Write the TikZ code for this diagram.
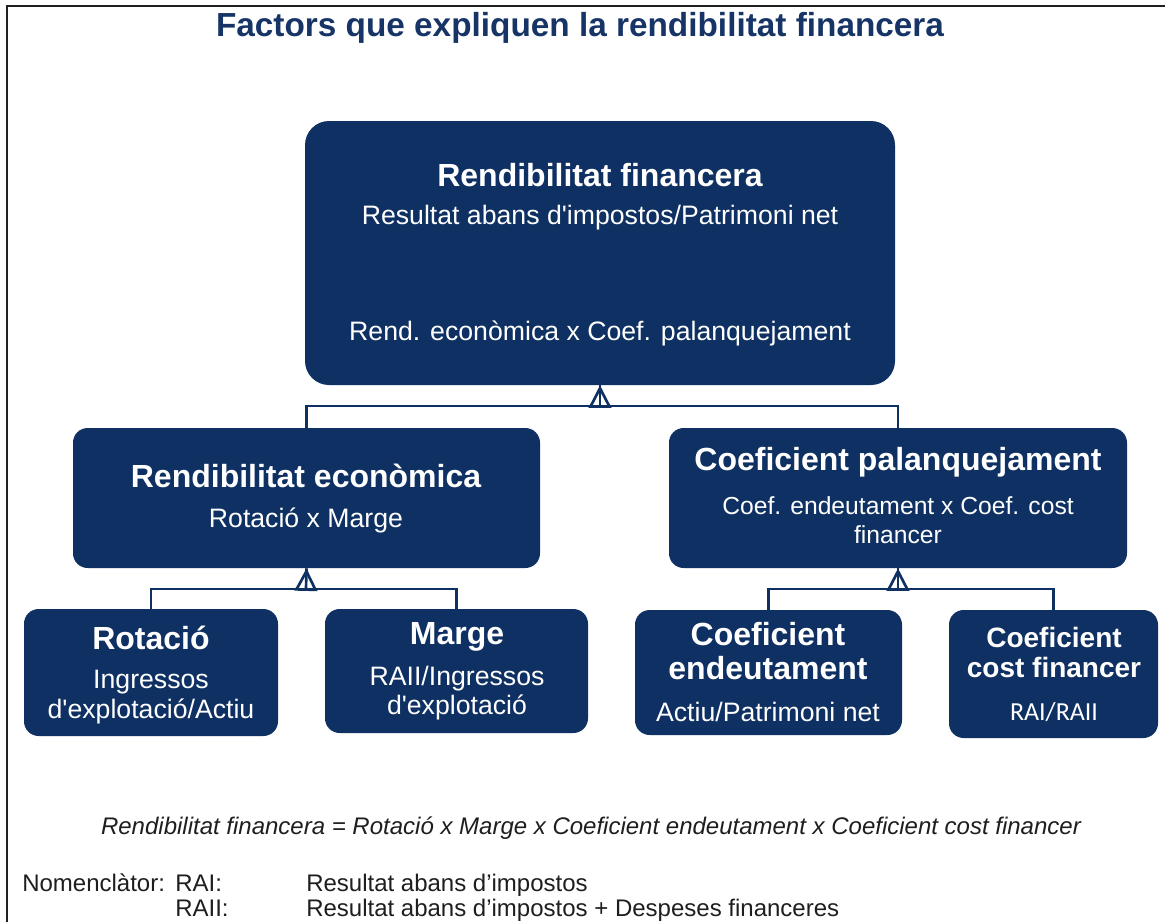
\documentclass[tikz,border=0pt]{standalone}
\usepackage{fontspec}
\setmainfont{Liberation Sans}
\newfontfamily\carl{Carlito}
\usetikzlibrary{arrows.meta,fit}
\definecolor{navy}{RGB}{14,48,98}
\definecolor{titlec}{RGB}{22,52,102}
\definecolor{framec}{RGB}{35,31,32}
\definecolor{footc}{RGB}{30,30,30}
\tikzset{
 bx/.style={fill=navy, inner sep=0pt, rounded corners=11pt},
 hd/.style={text=white, font=\bfseries\fontsize{24}{28}\selectfont, inner sep=0pt},
 hds/.style={text=white, font=\bfseries\fontsize{21}{25}\selectfont, inner sep=0pt},
 tx/.style={text=white, font=\fontsize{20}{24}\selectfont, inner sep=0pt},
 conn/.style={draw=navy, line width=2pt},
 tipar/.style={draw=navy, line width=2pt, -{Triangle[open,length=17pt,width=17pt]}},
 ft/.style={text=footc, font=\fontsize{18}{22}\selectfont, inner sep=0pt}
}
\begin{document}
\begin{tikzpicture}[x=0.75pt,y=-0.75pt]
\useasboundingbox (0,0) rectangle (1165,922);
\draw[framec, line width=1.5pt] (7,922) -- (7,6) -- (1165,6);
\node[text=titlec, font=\bfseries\fontsize{25}{30}\selectfont, inner sep=0pt] (title) at (580,28) {Factors que expliquen la rendibilitat financera};

% boxes
\node[bx, rounded corners=18pt, fit={(305,121) (895,385)}] (rf) {};
\node[bx, fit={(73,428) (540,568)}] (re) {};
\node[bx, fit={(669,428) (1127,568)}] (cp) {};
\node[bx, fit={(24,609) (278,736)}] (ro) {};
\node[bx, fit={(325,609) (588,733)}] (ma) {};
\node[bx, fit={(635,610) (902,735)}] (ce) {};
\node[bx, fit={(949,610) (1158,738)}] (cc) {};

% texts
\node[hd] (rf1) at (600,175) {Rendibilitat financera};
\node[tx] (rf2) at (600,218) {Resultat abans d\textquotesingle impostos/Patrimoni net};
\node[tx] (rf3) at (600,333) {Rend. econòmica x Coef. palanquejament};

\node[hd] (re1) at (306,476) {Rendibilitat econòmica};
\node[tx] (re2) at (306,520) {Rotació x Marge};

\node[hd] (cp1) at (898,462) {Coeficient palanquejament};
\node[tx, font=\fontsize{18.5}{22}\selectfont] (cp2) at (898,506) {Coef. endeutament x Coef. cost};
\node[tx, font=\fontsize{18.5}{22}\selectfont] (cp3) at (898,535) {financer};

\node[hd] (ro1) at (151,638) {Rotació};
\node[tx] (ro2) at (151,682) {Ingressos};
\node[tx] (ro3) at (151,711) {d\textquotesingle explotació/Actiu};

\node[hd] (ma1) at (457,637) {Marge};
\node[tx] (ma2) at (457,679) {RAII/Ingressos};
\node[tx] (ma3) at (457,707) {d\textquotesingle explotació};

\node[hd] (ce1) at (768,634) {Coeficient};
\node[hd] (ce2) at (768,668) {endeutament};
\node[tx] (ce3) at (768,712) {Actiu/Patrimoni net};

\node[hds] (cc1) at (1054,637) {Coeficient};
\node[hds] (cc2) at (1054,667) {cost financer};
\node[text=white, font=\carl\fontsize{19.5}{23}\selectfont, inner sep=0pt] (cc3) at (1054,712) {RAI/RAII};

% connectors
\coordinate (j1) at (600,406);
\coordinate (j2) at (306,589);
\coordinate (j3) at (898,589);
\draw[conn] (re.north) |- (j1) -| (cp.north);
\draw[conn] (j1) -- (rf.south);
\draw[tipar] (j1) -- (rf.south);
\draw[conn] (ro.north) |- (j2) -| (ma.north);
\draw[conn] (j2) -- (re.south);
\draw[tipar] (j2) -- (re.south);
\draw[conn] (ce.north) |- (j3) -| (cc.north);
\draw[conn] (j3) -- (cp.south);
\draw[tipar] (j3) -- (cp.south);

% footer
\node[ft, font=\itshape\fontsize{18}{22}\selectfont] (eq) at (591,828) {Rendibilitat financera = Rotació x Marge x Coeficient endeutament x Coeficient cost financer};
\node[ft, anchor=base west] (nom) at (22,891) {Nomenclàtor:};
\node[ft, anchor=base west] (rai) at (175,891) {RAI:};
\node[ft, anchor=base west] (raid) at (306,891) {Resultat abans d’impostos};
\node[ft, anchor=base west] (raii) at (175,916) {RAII:};
\node[ft, anchor=base west] (raiid) at (306,916) {Resultat abans d’impostos + Despeses financeres};
\end{tikzpicture}
\end{document}
